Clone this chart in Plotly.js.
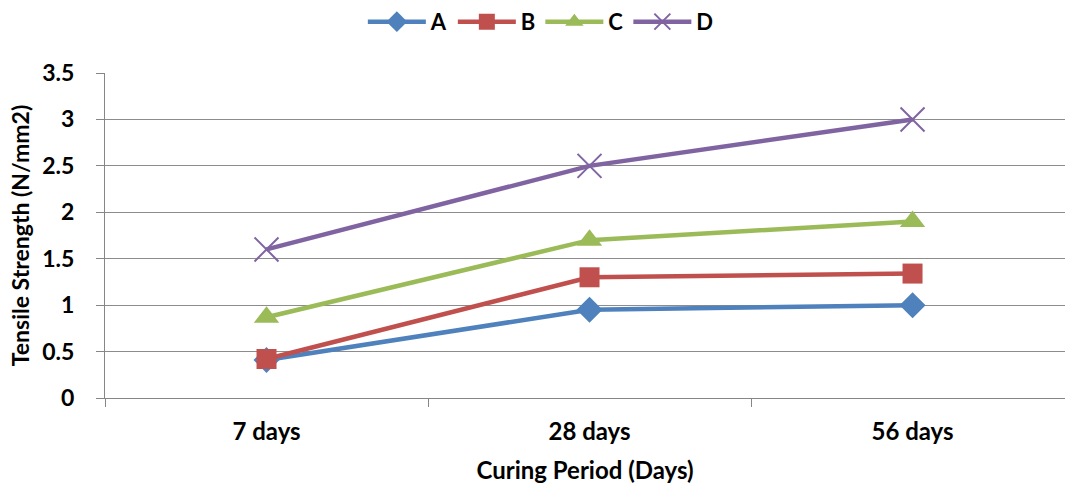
<!DOCTYPE html>
<html><head><meta charset="utf-8">
<script src="https://cdn.plot.ly/plotly-3.0.1.min.js"></script>
<style>html,body{margin:0;padding:0;background:#fff;}</style>
</head><body>
<div id="chart" style="width:1065px;height:488px;"></div>
<script>
const categories = ["7 days", "28 days", "56 days"];
const seriesA = [0.41, 0.95, 1.0];
const seriesB = [0.42, 1.3, 1.34];
const seriesC = [0.87, 1.7, 1.9];
const seriesD = [1.6, 2.5, 3.0];
const names = ["A", "B", "C", "D"];
const yTicks = [0, 0.5, 1, 1.5, 2, 2.5, 3, 3.5];
const yTickText = ["0", "0.5", "1", "1.5", "2", "2.5", "3", "3.5"];

const colors = ["#4F81BD", "#C0504D", "#9BBB59", "#8064A2"];
const symbols = ["diamond", "square", "triangle-up", "x-thin"];
const sizes = [20, 20, 22, 24];
const all = [seriesA, seriesB, seriesC, seriesD];

const traces = all.map((vals, i) => ({
  x: categories, y: vals, name: names[i], type: "scatter", mode: "lines+markers",
  line: {color: colors[i], width: 4.5},
  marker: {symbol: symbols[i], size: sizes[i], color: colors[i],
           line: {color: colors[i], width: i === 3 ? 2 : 0}}
}));

const layout = {
  width: 1065, height: 488,
  margin: {l: 105, r: 0, t: 73, b: 90},
  paper_bgcolor: "#fff", plot_bgcolor: "#fff",
  font: {family: "Lato, 'Open Sans', sans-serif", color: "#000", size: 22},
  showlegend: true,
  legend: {orientation: "h", x: 0.454, xanchor: "center",
           y: 1.222, yanchor: "top", itemwidth: 58,
           font: {size: 22, weight: "bold"}, tracegroupgap: 0},
  xaxis: {
    type: "category", range: [-0.5, 2.472], tickson: "boundaries",
    ticks: "outside", ticklen: 8, tickcolor: "#868686",
    showline: true, linecolor: "#868686", linewidth: 1,
    showgrid: false, zeroline: false, ticklabelstandoff: 12,
    tickfont: {size: 24, weight: "bold"},
    title: {text: "Curing Period (Days)", font: {size: 24, weight: "bold"}, standoff: 18}
  },
  yaxis: {
    range: [0, 3.5], tickvals: yTicks, ticktext: yTickText,
    ticks: "outside", ticklen: 8, tickcolor: "#868686",
    showline: true, linecolor: "#868686", linewidth: 1,
    showgrid: true, gridcolor: "#8C8C8C", gridwidth: 1, zeroline: false,
    ticklabelstandoff: 17,
    tickfont: {size: 23, weight: "bold"},
    title: {text: "Tensile Strength (N/mm2)", font: {size: 23, weight: "bold"}, standoff: 6}
  }
};

Plotly.newPlot("chart", traces, layout, {displayModeBar: false, staticPlot: true});
</script>
</body></html>
